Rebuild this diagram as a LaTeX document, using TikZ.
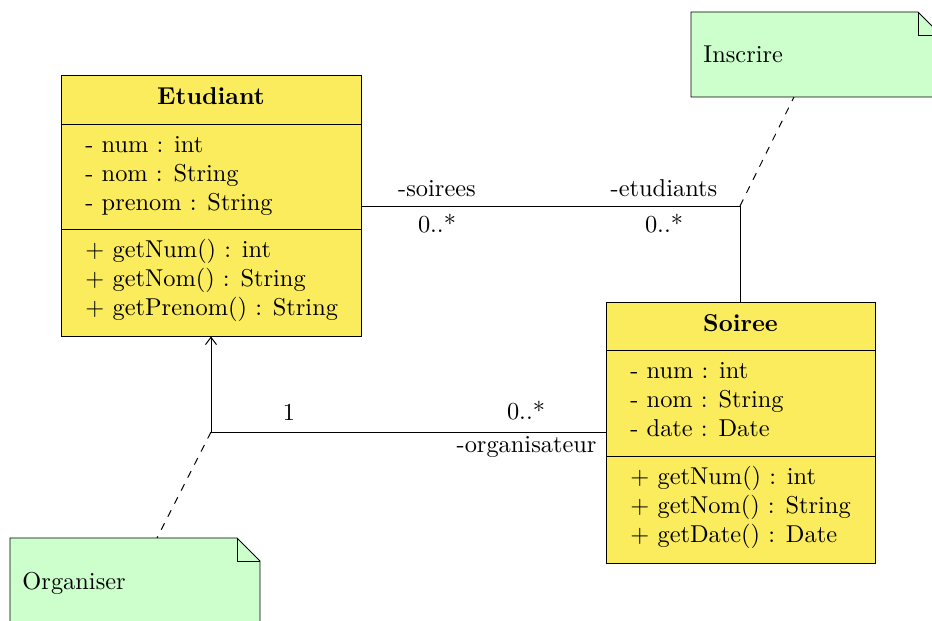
\documentclass[tikz,border=0pt]{standalone}
\usetikzlibrary{arrows.meta}
\definecolor{umlyellow}{RGB}{251,236,93}
\definecolor{notegreen}{RGB}{204,255,204}
\begin{document}
\begin{tikzpicture}[x=0.41pt,y=-0.41pt,
  classbox/.style={draw=black,fill=umlyellow,inner sep=0pt,line width=0.4pt},
  txt/.style={inner sep=0pt,anchor=base west,font=\normalsize},
  ctxt/.style={inner sep=0pt,anchor=base,font=\normalsize},
  notebox/.style={draw=black,fill=notegreen,line width=0.4pt},
  assoc/.style={draw=black,line width=0.4pt},
  notelink/.style={draw=black,dashed,line width=0.4pt}]
\useasboundingbox (0,0) rectangle (932,621);
\clip (0,0) rectangle (932,621);

% Notes
\draw[notebox] (691,12) -- (918,12) -- (941,35) -- (941,97) -- (691,97) -- cycle;
\draw (918,12) -- (918,35) -- (941,35);
\node[txt] (inscrire) at (703,63) {Inscrire};
\coordinate (inscrireb) at (794,97);

\draw[notebox] (10,538) -- (237,538) -- (260,561) -- (260,623) -- (10,623) -- cycle;
\draw (237,538) -- (237,561) -- (260,561);
\node[txt] (organiser) at (22,590) {Organiser};
\coordinate (organisert) at (157,538);

% Etudiant
\node[classbox,minimum width=123pt,minimum height=107.01pt] (etu) at (211,205.5) {};
\draw (61,124) -- (361,124);
\draw (61,229) -- (361,229);
\node[ctxt,font=\bfseries] (etuname) at (211,105) {Etudiant};
\node[txt] (ea1) at (85,152.3) {- num : int};
\node[txt] (ea2) at (85,181.6) {- nom : String};
\node[txt] (ea3) at (85,210.9) {- prenom : String};
\node[txt] (eo1) at (85,257.3) {$+$ getNum() : int};
\node[txt] (eo2) at (85,286.6) {$+$ getNom() : String};
\node[txt] (eo3) at (85,315.9) {$+$ getPrenom() : String};

% Soiree
\node[classbox,minimum width=110.29pt,minimum height=107.01pt] (soi) at (740.5,432.5) {};
\draw (606,350) -- (875,350);
\draw (606,456) -- (875,456);
\node[ctxt,font=\bfseries] (soiname) at (740.5,332) {Soiree};
\node[txt] (sa1) at (630,378.3) {- num : int};
\node[txt] (sa2) at (630,407.6) {- nom : String};
\node[txt] (sa3) at (630,436.9) {- date : Date};
\node[txt] (so1) at (630,484.3) {$+$ getNum() : int};
\node[txt] (so2) at (630,513.6) {$+$ getNom() : String};
\node[txt] (so3) at (630,542.9) {$+$ getDate() : Date};

% Association Etudiant - Soiree
\coordinate (c1) at (740,206);
\draw[assoc] (etu.east |- c1) -- (c1) -- (soi.north -| c1);
\node[ctxt] (l1) at (437,197) {-soirees};
\node[ctxt] (l2) at (437,233) {0..*};
\node[ctxt] (l3) at (664,197) {-etudiants};
\node[ctxt] (l4) at (664,233) {0..*};
\draw[notelink] (c1) -- (inscrireb);

% Association organisateur
\coordinate (c2) at (211,432);
\draw[assoc,-{Straight Barb[length=3pt,width=4.5pt]}] (soi.west |- c2) -- (c2) -- (etu.south);
\node[ctxt] (l5) at (289,421) {1};
\node[ctxt] (l6) at (526,420) {0..*};
\node[ctxt,anchor=base east] (l7) at (597,452.7) {-organisateur};
\draw[notelink] (c2) -- (organisert);
\end{tikzpicture}
\end{document}
